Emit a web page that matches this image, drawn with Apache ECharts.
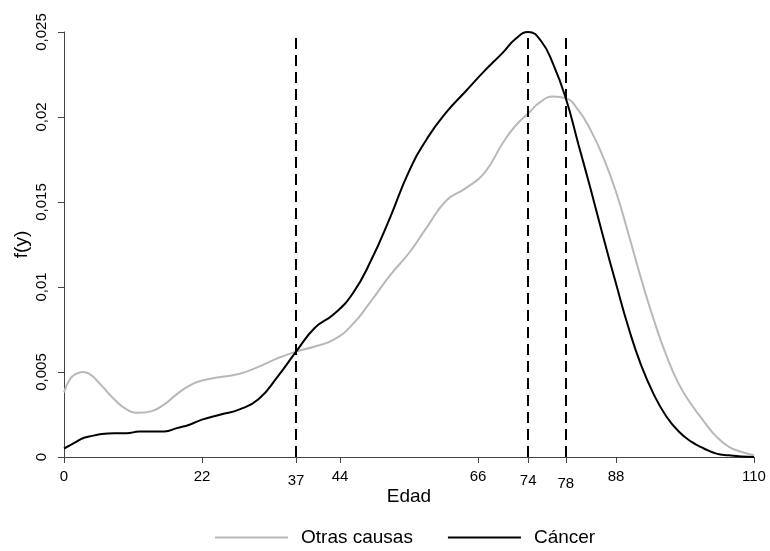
<!DOCTYPE html>
<html><head><meta charset="utf-8">
<script src="https://cdn.jsdelivr.net/npm/echarts@6/dist/echarts.min.js"></script>
<style>html,body{margin:0;padding:0;background:#fff}#c{width:770px;height:551px}</style>
</head><body><div id="c"></div>
<script>
// Age grid (years)
const ages = [0,1,2,3,4,6,8,10,12,14,16,18,20,22,25,28,31,34,37,40,43,46,49,52,55,58,61,64,67,70,72,74,76,78,80,82,84,86,88,90,92,94,96,98,100,102,104,106,108,110];
// Density, "Otras causas"
const otrasCausas = [0.0038,0.0046,0.0049,0.0050,0.0049,0.0042,0.0034,0.0028,0.0026,0.0027,0.0031,0.0037,0.0042,0.0045,0.0047,0.0049,0.0053,0.0058,0.0062,0.0065,0.0069,0.0078,0.0092,0.0107,0.0120,0.0136,0.0151,0.0158,0.0167,0.0185,0.0195,0.0202,0.0209,0.0212,0.0211,0.0204,0.0192,0.0176,0.0156,0.0131,0.0105,0.0081,0.0060,0.0043,0.0031,0.0021,0.0012,0.0006,0.0003,0.0001];
// Density, "Cáncer"
const cancer = [0.0005,0.0007,0.0009,0.0011,0.0012,0.00135,0.0014,0.0014,0.0015,0.0015,0.0015,0.0017,0.0019,0.0022,0.0025,0.0028,0.0034,0.0047,0.0062,0.0076,0.0084,0.0096,0.0116,0.0141,0.0168,0.0188,0.0203,0.0215,0.0227,0.0238,0.0246,0.0250,0.0245,0.0231,0.0211,0.0184,0.0157,0.0129,0.0102,0.0076,0.0054,0.0037,0.0024,0.0015,0.0009,0.0005,0.0002,0.0001,0.00003,0];
// Axis ticks
const xTicks = [0,22,37,44,66,74,80,88,110];
const xTickLabels = ['0','22','37','44','66','74','78','88','110'];
const xTickLevel = ['a','a','b','a','a','b','c','a','a'];
const yTicks = [0,0.005,0.01,0.015,0.02,0.025];
const yTickLabels = ['0','0,005','0,01','0,015','0,02','0,025'];
// Vertical dashed reference lines (positions on the age axis)
const markerAges = [37,74,80];
const markerTop = 0.0249;

const seriesNames = ['Otras causas','Cáncer'];
const seriesColors = ['#b8b8b8','#000000'];

function nearestIdx(arr, v){let b=0;for(let i=1;i<arr.length;i++){if(Math.abs(arr[i]-v)<Math.abs(arr[b]-v))b=i;}return b;}
const pairs = vals => ages.map((a,i)=>[a,vals[i]]);

const font = 'Liberation Sans, Arial, sans-serif';
const axisColor = '#444';

const chart = echarts.init(document.getElementById('c'), null, {renderer:'canvas'});
chart.setOption({
  animation:false,
  backgroundColor:'#fff',
  textStyle:{fontFamily:font},
  grid:{left:64,right:16,top:32,bottom:94},
  legend:{
    data:seriesNames.map(n=>({name:n,icon:'rect'})), left:215, top:528, padding:0,
    itemWidth:73, itemHeight:2, itemGap:35,
    textStyle:{fontSize:19,color:'#000',fontFamily:font,padding:[0,0,0,8]}
  },
  xAxis:{
    type:'value', min:0, max:110,
    name:'Edad', nameLocation:'middle', nameGap:30, nameMoveOverlap:false,
    nameTextStyle:{fontSize:19,color:'#000',fontFamily:font},
    axisLine:{show:true,lineStyle:{color:axisColor,width:1}},
    axisTick:{show:true,length:6,customValues:xTicks,lineStyle:{color:axisColor}},
    axisLabel:{
      customValues:xTicks, margin:12, fontSize:15, color:'#000', fontFamily:font,
      formatter:v=>{const i=nearestIdx(xTicks,v);return '{'+xTickLevel[i]+'|'+xTickLabels[i]+'}';},
      rich:{a:{fontSize:15,fontFamily:font},b:{fontSize:15,fontFamily:font,padding:[4,0,0,0]},c:{fontSize:15,fontFamily:font,padding:[7,0,0,0]}}
    },
    splitLine:{show:false}
  },
  yAxis:{
    type:'value', min:0, max:0.025,
    name:'f(y)', nameLocation:'middle', nameGap:33, nameMoveOverlap:false,
    nameTextStyle:{fontSize:19,color:'#000',fontFamily:font},
    axisLine:{show:true,lineStyle:{color:axisColor,width:1}},
    axisTick:{show:true,length:6,customValues:yTicks,lineStyle:{color:axisColor}},
    axisLabel:{
      customValues:yTicks, rotate:90, margin:15, fontSize:15, color:'#000', fontFamily:font,
      formatter:v=>yTickLabels[nearestIdx(yTicks,v)]
    },
    splitLine:{show:false}
  },
  series:[
    {name:seriesNames[0], type:'line', data:pairs(otrasCausas), smooth:0.5, symbol:'none',
     lineStyle:{color:seriesColors[0],width:2}, itemStyle:{color:seriesColors[0]}, z:2},
    {name:seriesNames[1], type:'line', data:pairs(cancer), smooth:0.5, symbol:'none',
     lineStyle:{color:seriesColors[1],width:2}, itemStyle:{color:seriesColors[1]}, z:3,
     markLine:{silent:true, symbol:['none','none'], label:{show:false},
       lineStyle:{color:'#000',width:2,type:[11,6]},
       data:markerAges.map(a=>[{coord:[a,0]},{coord:[a,markerTop]}])}
    }
  ]
});
</script></body></html>
